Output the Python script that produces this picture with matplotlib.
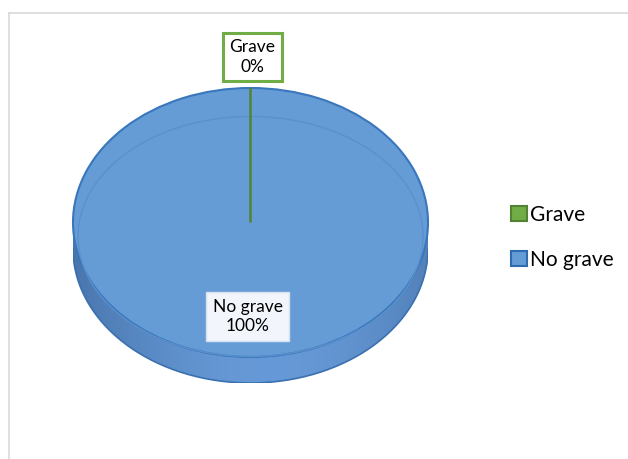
import numpy as np
import matplotlib.pyplot as plt
import matplotlib.patches as patches
from matplotlib.lines import Line2D
from matplotlib.path import Path

plt.rcParams["font.family"] = ["Lato", "DejaVu Sans"]

categories = ["Grave", "No grave"]
values = [0, 100]
pct_labels = ["0%", "100%"]
colors = ["#70AD47", "#659CD6"]
edge_colors = ["#548235", "#3A76BC"]

W, H = 628, 459
fig = plt.figure(figsize=(W / 100, H / 100), dpi=100)

# chart frame (Excel style, only top and left edges are visible)
fx, fy = 8.5 / W, 1 - 12.5 / H
fig.add_artist(Line2D([fx, 1.0], [fy, fy], transform=fig.transFigure, color="#D9D9D9", lw=1.2))
fig.add_artist(Line2D([fx, fx], [0.0, fy], transform=fig.transFigure, color="#D9D9D9", lw=1.2))

# pie axes: top ellipse rx=177.5px, ry=134.5px, side depth 26px
rx, ry, depth = 177.5, 134.5, 26
left, top = 73, 88
ax = fig.add_axes([left / W, 1 - (top + 2 * ry + depth) / H, 2 * rx / W, (2 * ry + depth) / H])
t = depth / ry

# side wall with horizontal gradient, clipped to the wall shape
ang = np.linspace(np.pi, 2 * np.pi, 200)
lower_top = np.column_stack([np.cos(ang), np.sin(ang)])
lower_bot = lower_top + [0, -t]
verts = np.vstack([lower_bot, lower_top[::-1], lower_bot[:1]])
side_patch = patches.PathPatch(Path(verts), facecolor="none", edgecolor="none")
ax.add_patch(side_patch)
xs = np.linspace(-1, 1, 300)
shade = 0.45 + 0.55 * np.clip(np.cos(xs * 1.35 - 0.15), 0, 1)
dark = np.array([0.18, 0.33, 0.52])
light = np.array([0.40, 0.60, 0.84])
grad = dark[None, :] * (1 - shade[:, None]) + light[None, :] * shade[:, None]
grad = np.tile(grad[None, :, :], (10, 1, 1))
im = ax.imshow(grad, extent=[-1, 1, -1 - t, 0], aspect="auto", zorder=1)
im.set_clip_path(side_patch)
ax.plot(lower_bot[:, 0], lower_bot[:, 1], color="#3A70B0", lw=1.2, zorder=2)

# top face
wedges, _ = ax.pie(values, colors=colors, startangle=90, counterclock=False,
                   radius=1, normalize=True, frame=True,
                   wedgeprops=dict(linewidth=1.5))
ax.set_xlim(-1, 1)
ax.set_ylim(-1 - t, 1)
ax.set_aspect("auto")
ax.axis("off")
for w, ec in zip(wedges, edge_colors):
    w.set_edgecolor(ec)
    w.set_zorder(3)
wedges[0].set_zorder(5)
wedges[0].set_linewidth(1.8)

# inner bevel line
th = np.linspace(0, 2 * np.pi, 300)
irx, iry, icy = 172.5 / rx, 120 / ry, -14 / ry
ax.plot(irx * np.cos(th), icy + iry * np.sin(th), color="#5A90CC", lw=1.0, zorder=4)

# data labels
ax.text(2 / rx, 1 + 31 / ry, f"{categories[0]}\n{pct_labels[0]}", ha="center", va="center",
        fontsize=12.5, linespacing=1.3, zorder=6,
        bbox=dict(boxstyle="square,pad=0.35", facecolor="white", edgecolor="#70AD47", linewidth=2.2))
ax.text(-3 / rx, -94 / ry, f"{categories[1]}\n{pct_labels[1]}", ha="center", va="center",
        fontsize=12.5, linespacing=1.3, zorder=6,
        bbox=dict(boxstyle="square,pad=0.4", facecolor="#F2F5FB", edgecolor="#D5E1F1", linewidth=1))

# legend
handles = [patches.Patch(facecolor=c, edgecolor=e, linewidth=1.5) for c, e in zip(colors, ["#548235", "#2E6AB0"])]
fig.legend(handles, categories, loc="center left", bbox_to_anchor=(501 / W, 1 - 237 / H),
           frameon=False, fontsize=15, handlelength=0.75, handleheight=0.75,
           handletextpad=0.15, labelspacing=1.2, borderpad=0)

fig.savefig("out.png", dpi=100)
